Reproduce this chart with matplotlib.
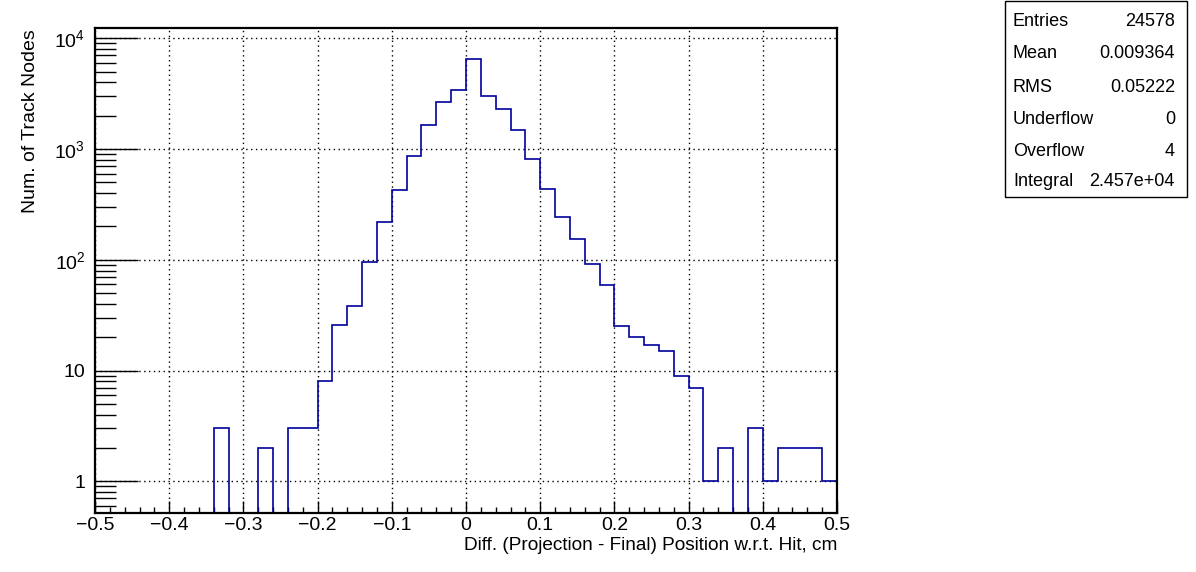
import numpy as np
import matplotlib
matplotlib.use("Agg")
import matplotlib.pyplot as plt
from matplotlib.ticker import FixedLocator, NullFormatter, FuncFormatter

plt.rcParams["font.family"] = ["Liberation Sans", "DejaVu Sans"]
plt.rcParams["mathtext.fontset"] = "custom"
plt.rcParams["mathtext.rm"] = "Liberation Sans"
plt.rcParams["mathtext.it"] = "Liberation Sans"

# histogram: 50 bins from -0.5 to 0.5
x_lo, x_hi, n_bins = -0.5, 0.5, 50
counts = [0, 0, 0, 0, 0, 0, 0, 0, 3, 0,
          0, 2, 0, 3, 3, 8, 26, 38, 95, 219,
          426, 865, 1648, 2660, 3415, 6500, 3013, 2298, 1485, 812,
          435, 243, 154, 91, 59, 25, 20, 17, 15, 9,
          7, 1, 2, 0, 3, 1, 2, 2, 2, 1]

stat_names = ["Entries", "Mean", "RMS", "Underflow", "Overflow", "Integral"]
stat_values = ["24578", "0.009364", "0.05222", "0", "4", "2.457e+04"]

x_title = "Diff. (Projection - Final) Position w.r.t. Hit, cm"
y_title = "Num. of Track Nodes"

y_min, y_max = 0.514, 12300

W, H = 1196, 572
fig = plt.figure(figsize=(W / 100, H / 100), dpi=100)
ax = fig.add_axes([95 / W, 1 - 513.3 / H, (837 - 95) / W, (513.3 - 28.3) / H])

edges = np.linspace(x_lo, x_hi, n_bins + 1)
vals = np.array(counts, dtype=float)
# empty bins sit on the bottom of the frame, like ROOT draws them
shown = np.where(vals > 0, vals, y_min)
ax.stairs(shown, edges, baseline=None, color="#00009c", linewidth=1.2, zorder=2)

ax.set_yscale("log")
ax.set_xlim(x_lo, x_hi)
ax.set_ylim(y_min, y_max)

ax.xaxis.set_major_locator(FixedLocator(np.round(np.arange(-0.5, 0.51, 0.1), 2)))
ax.xaxis.set_minor_locator(FixedLocator(np.round(np.arange(-0.5, 0.51, 0.02), 2)))
ax.xaxis.set_major_formatter(FuncFormatter(
    lambda v, pos: "0" if abs(v) < 1e-9 else f"{v:g}".replace("-", "\u2212")))

decades = [0, 1, 2, 3, 4]
ax.yaxis.set_major_locator(FixedLocator([10.0 ** e for e in decades]))
ax.yaxis.set_minor_locator(FixedLocator(
    [m * 10.0 ** e for e in range(-1, 5) for m in range(2, 10)]))
ax.yaxis.set_minor_formatter(NullFormatter())


def ylab(v, pos):
    e = int(round(np.log10(v)))
    if e == 0:
        return "1"
    if e == 1:
        return "10"
    return f"$10^{{{e}}}$"


ax.yaxis.set_major_formatter(FuncFormatter(ylab))

ax.tick_params(axis="x", which="major", direction="in", length=9, width=1.0,
               labelsize=14, pad=3, top=False)
ax.tick_params(axis="x", which="minor", direction="in", length=4, width=1.0, top=False)
ax.tick_params(axis="y", which="major", direction="in", length=31, width=1.0,
               labelsize=14, pad=7, right=False)
ax.tick_params(axis="y", which="minor", direction="in", length=15, width=1.0, right=False)

ax.grid(True, which="major", color="black", linestyle=(0, (1, 2.5)), linewidth=1.0)
for s in ax.spines.values():
    s.set_linewidth(1.6)
    s.set_zorder(3)

fig.text(837 / W, 1 - 546 / H, x_title, ha="right", va="center", fontsize=13.7)
fig.text(31 / W, 1 - 29 / H, y_title, ha="center", va="top", rotation=90, fontsize=14)

# stats box
bx0, bx1, by0, by1 = 1005, 1187, 0.5, 197
fig.patches.append(plt.Rectangle((bx0 / W, 1 - by1 / H), (bx1 - bx0) / W, (by1 - by0) / H,
                                 transform=fig.transFigure, fill=False,
                                 edgecolor="black", linewidth=1.0))
row_y = [22, 54, 87, 119, 151, 182]
for name, val, yy in zip(stat_names, stat_values, row_y):
    fig.text(1013 / W, 1 - yy / H, name, ha="left", va="center", fontsize=13)
    fig.text(1175 / W, 1 - yy / H, val, ha="right", va="center", fontsize=13)

fig.savefig("out.png", dpi=100)
